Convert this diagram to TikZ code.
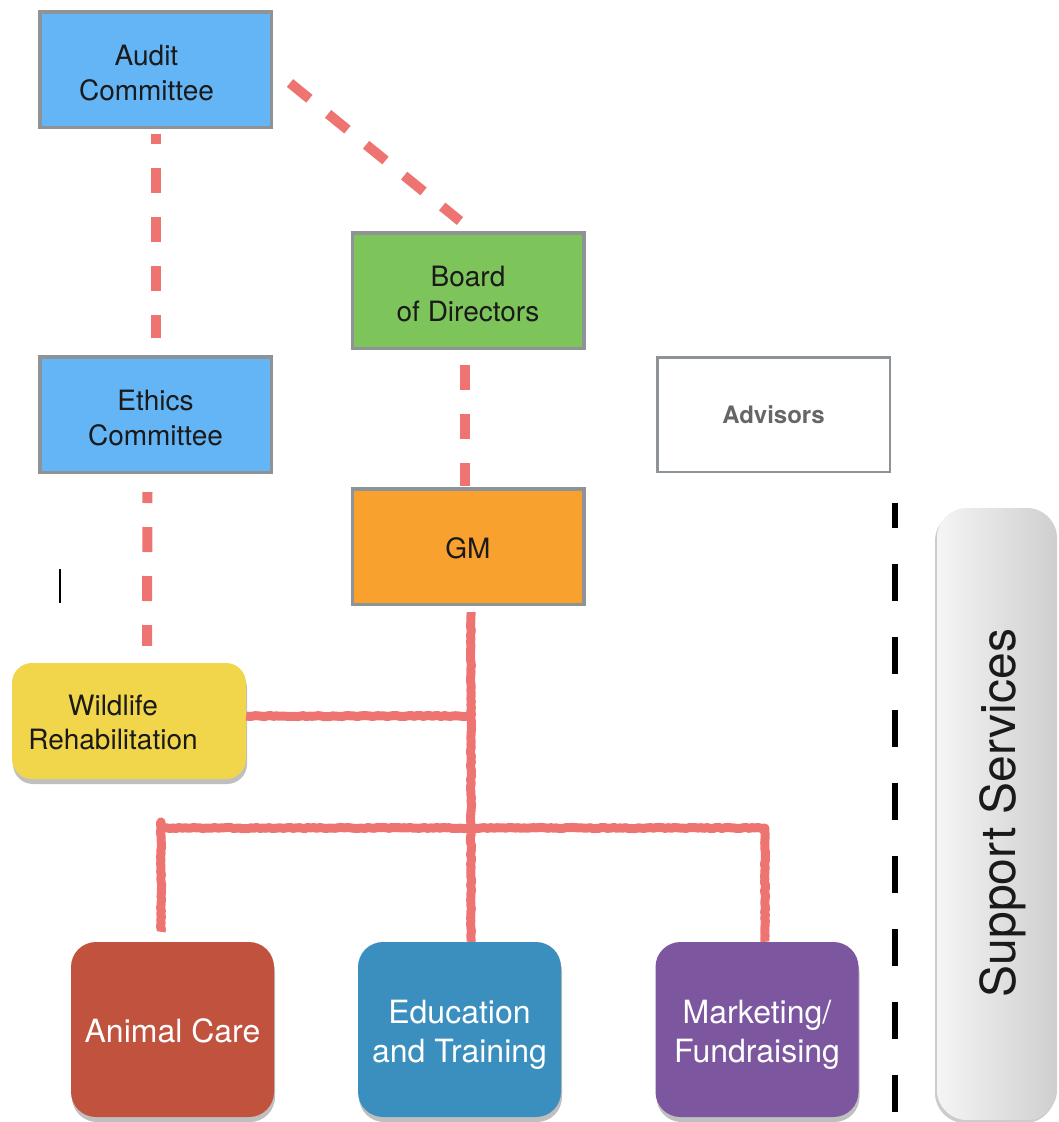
\documentclass[tikz,border=0pt]{standalone}
\usepackage{fontspec}
\setmainfont{TeX Gyre Heros}
\usetikzlibrary{shadows,calc,decorations.pathmorphing}
\definecolor{boxgray}{HTML}{8E9398}
\definecolor{cblue}{HTML}{63B5F6}
\definecolor{cgreen}{HTML}{7DC55B}
\definecolor{corange}{HTML}{F9A12F}
\definecolor{cyellow}{HTML}{F1D54B}
\definecolor{canimal}{HTML}{C0523E}
\definecolor{cedu}{HTML}{3A8FBE}
\definecolor{cmkt}{HTML}{7D56A0}
\definecolor{linered}{HTML}{EE7471}
\definecolor{textdark}{HTML}{1A1A1A}
\definecolor{advgray}{HTML}{666666}
\begin{document}
\begin{tikzpicture}[x=1pt,y=-1pt,
  box/.style={draw=boxgray, line width=3.5pt, minimum width=231.5pt, minimum height=115.5pt, inner sep=0pt},
  lbl/.style={align=center, inner sep=0pt, text=textdark, font=\fontsize{28}{35}\selectfont},
  dept/.style={rounded corners=25pt, minimum width=203pt, minimum height=175pt, inner sep=0pt,
    drop shadow={shadow xshift=1pt, shadow yshift=-5pt, opacity=0.25, fill=black}},
  deptlbl/.style={align=center, inner sep=0pt, text=white, font=\fontsize{32}{39}\selectfont},
  reddash/.style={draw=linered, line width=10pt, dash pattern=on 25pt off 24pt},
  redsolid/.style={draw=linered, line width=9pt, line join=round,
    decorate, decoration={random steps, segment length=3pt, amplitude=0.6pt}},
  blackdash/.style={draw=black, line width=6pt, dash pattern=on 37pt off 36pt}
]
\useasboundingbox (0,0) rectangle (1059,1122);

% boxes
\node[box, fill=cblue] (audit) at (155.5,69.5) {};
\node[lbl] (auditT) at ($(audit.center)+(-9,4)$) {Audit\\Committee};
\node[box, fill=cgreen] (board) at (468,290.5) {};
\node[lbl] (boardT) at ($(board.center)+(0,3)$) {Board\\of Directors};
\node[box, fill=cblue] (ethics) at (155.5,414.5) {};
\node[lbl] (ethicsT) at ($(ethics.center)+(0,3.5)$) {Ethics\\Committee};
\node[box, fill=corange] (gm) at (468,546.5) {};
\node[lbl] (gmT) at ($(gm.center)+(0,2)$) {GM};
\node[box, fill=white, line width=2.5pt, minimum width=232.5pt, minimum height=114.5pt] (adv) at (773.5,414.5) {};
\node[lbl, text=advgray, font=\fontsize{24}{28}\selectfont\bfseries] (advT) at (adv.center) {Advisors};
\node[rounded corners=20pt, fill=cyellow, minimum width=234pt, minimum height=116pt, inner sep=0pt,
      drop shadow={shadow xshift=1pt, shadow yshift=-5pt, opacity=0.25, fill=black}]
      (wild) at (129,721) {};
\node[lbl, font=\fontsize{28}{34}\selectfont] (wildT) at ($(wild.center)+(-16,1.5)$) {Wildlife\\Rehabilitation};
\node[dept, fill=canimal] (ac) at (172.5,1029.5) {};
\node[deptlbl] (acT) at ($(ac.center)+(0,1)$) {Animal Care};
\node[dept, fill=cedu] (edu) at (459.5,1029.5) {};
\node[deptlbl] (eduT) at ($(edu.center)+(0,5)$) {Education\\and Training};
\node[dept, fill=cmkt] (mkt) at (757,1029.5) {};
\node[deptlbl] (mktT) at ($(mkt.center)+(0,5)$) {Marketing/\\Fundraising};

% support services
\node[rounded corners=30pt, left color=white!96!black, right color=white!81!black,
      minimum width=120pt, minimum height=612pt, inner sep=0pt,
      drop shadow={shadow xshift=-2pt, shadow yshift=-3pt, opacity=0.2, fill=black}]
      (sup) at (997,814) {};
\node[rotate=90, inner sep=0pt, text=textdark, font=\fontsize{48}{56}\selectfont] (suptext) at (1003,813) {Support Services};

% dashed connectors
\draw[reddash, dash phase=15pt] ($(audit.south)+(0,5)$) -- ($(ethics.north)+(0,-17)$);
\draw[reddash] ($(audit.east)+(17,13.5)$) -- ($(board.north)+(-8,-10)$);
\draw[reddash, dash phase=0pt] ($(board.south)+(-3,15)$) -- ($(gm.north)+(-3,-1)$);
\draw[reddash, dash phase=14pt] ($(ethics.south)+(-8,18)$) -- ($(wild.north)+(18,-17)$);

% solid tree
\coordinate (tx) at (471,600);
\coordinate (jw) at (471,716);
\coordinate (jl) at (161,828);
\coordinate (jr) at (765,828);
\draw[redsolid] ($(gm.south -| tx)+(0,6)$) -- (edu.north -| tx);
\draw[redsolid] (wild.east |- jw) -- (jw);
\draw[redsolid] ($(ac.north -| jl)+(0,-10)$) -- ($(jl)+(0,-6)$) -- (jl) -- (jr) -- (mkt.north -| jr);

% separator
\draw[blackdash, dash phase=12pt] (895,503) -- (895,1122);

% stray cursor mark
\draw[line width=2pt] (60,569) -- (60,603);
\end{tikzpicture}
\end{document}
